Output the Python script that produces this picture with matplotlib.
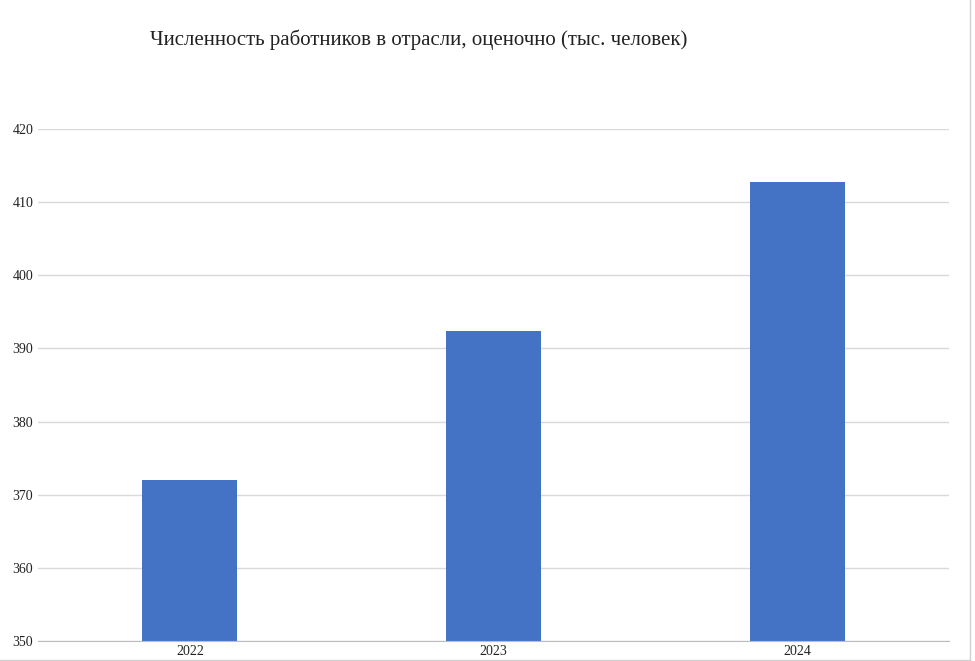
import matplotlib.pyplot as plt
from matplotlib.lines import Line2D

years = ["2022", "2023", "2024"]
workers = [372.05, 392.35, 412.75]
y_ticks = [350, 360, 370, 380, 390, 400, 410, 420]

plt.rcParams['font.family'] = ['Liberation Serif', 'DejaVu Serif']

fig = plt.figure(figsize=(9.75, 6.61), dpi=100)
ax = fig.add_axes([38 / 975, 1 - 641 / 661, (949 - 38) / 975, (641 - 129) / 661])

x = range(len(years))
ax.bar(x, workers, width=0.313, color="#4472C4", zorder=3)
ax.set_xlim(-0.5, 2.5)
ax.set_ylim(350, 420)
ax.set_xticks(list(x))
ax.set_xticklabels(years)
ax.set_yticks(y_ticks)
ax.tick_params(axis='both', length=0, labelsize=10, colors="#222222")
ax.tick_params(axis='x', pad=3)
ax.tick_params(axis='y', pad=3.5)
ax.grid(axis='y', color="#d9d9d9", linewidth=1, zorder=0)
for side in ["top", "right", "left"]:
    ax.spines[side].set_visible(False)
ax.spines["bottom"].set_color("#bdbdbd")
ax.spines["bottom"].set_zorder(4)

fig.text(419 / 975, 1 - 40 / 661, "Численность работников в отрасли, оценочно (тыс. человек)",
         ha="center", va="center", fontsize=15, color="#222222")

# light frame edges of the screenshot
fig.add_artist(Line2D([970 / 975, 970 / 975], [0, 1], color="#d0d0d0", linewidth=1, transform=fig.transFigure))
fig.add_artist(Line2D([0, 970 / 975], [1 / 661, 1 / 661], color="#d0d0d0", linewidth=1, transform=fig.transFigure))

fig.savefig("out.png", dpi=100)
